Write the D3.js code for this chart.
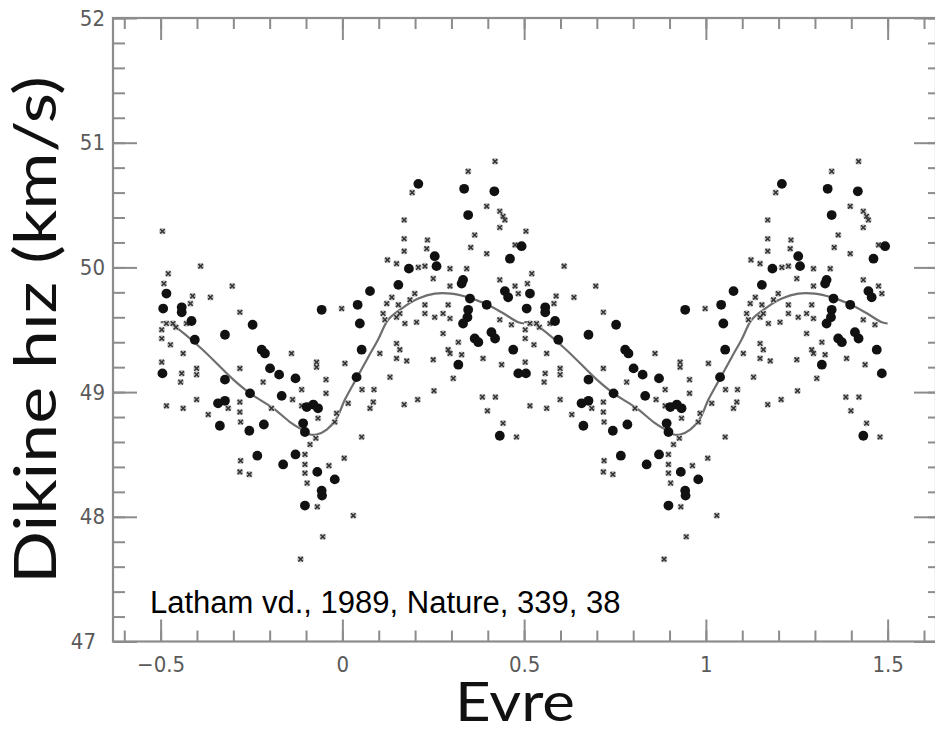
<!DOCTYPE html>
<html><head><meta charset="utf-8">
<script src="https://cdn.jsdelivr.net/npm/d3@7"></script>
<style>html,body{margin:0;padding:0;background:#fff;} svg{display:block}</style>
</head><body>
<svg id="c" width="935" height="732"></svg>
<script>
// ---------- data ----------
const xMajorTicks = [-0.5, 0, 0.5, 1, 1.5];
const xTickLabels = ["\u22120.5", "0", "0.5", "1", "1.5"];
const yMajorTicks = [47, 48, 49, 50, 51, 52];
const yTickLabels = ["47", "48", "49", "50", "51", "52"];
const phaseCopies = [0, 1];

const curvePhase = [-0.5,-0.475,-0.392,-0.3,-0.254,-0.19,-0.144,-0.112,-0.089,-0.071,-0.043,-0.016,0.007,0.039,0.071,0.098,0.126,0.163,0.209,0.254,0.3,0.346,0.392,0.438,0.484,0.5];
const curveVel   = [49.56,49.55,49.36,49.10,48.99,48.87,48.76,48.70,48.66,48.66,48.70,48.79,48.94,49.11,49.28,49.42,49.58,49.67,49.75,49.79,49.79,49.76,49.71,49.64,49.56,49.55];

const dotPhase = [-0.484,-0.493,-0.442,-0.442,-0.415,-0.247,-0.057,-0.406,-0.323,-0.222,-0.213,-0.495,-0.199,-0.174,-0.129,
 0.209,0.335,0.418,0.346,0.254,0.259,0.183,0.493,0.461,0.332,0.328,0.154,0.076,0.447,0.456,0.042,0.351,0.397,0.346,0.344,0.332,0.048,0.364,0.374,0.410,0.420,0.053,0.319,0.470,0.484,0.039,
 -0.323,-0.342,-0.323,-0.337,-0.254,-0.256,-0.216,-0.167,-0.098,-0.080,-0.067,-0.108,-0.103,-0.234,-0.163,-0.129,-0.069,-0.021,-0.057,-0.056,-0.103,
 0.433];
const dotVel = [49.79,49.67,49.68,49.64,49.57,49.54,49.66,49.42,49.46,49.34,49.31,49.15,49.19,49.14,49.11,
 50.67,50.63,50.61,50.42,50.09,50.01,49.99,50.17,50.07,49.90,49.87,49.86,49.81,49.81,49.76,49.70,49.75,49.70,49.66,49.60,49.55,49.55,49.43,49.40,49.48,49.43,49.34,49.22,49.34,49.15,49.12,
 49.10,48.91,48.93,48.73,48.99,48.69,48.74,48.97,48.88,48.90,48.87,48.75,48.68,48.49,48.42,48.50,48.36,48.30,48.21,48.17,48.09,
 48.65];

const crossPhase = [-0.495,-0.390,-0.479,-0.491,-0.303,-0.412,-0.363,-0.418,-0.282,-0.429,-0.484,-0.466,-0.458,-0.497,-0.497,-0.473,-0.438,-0.140,-0.497,-0.071,-0.071,-0.442,-0.401,-0.401,-0.282,-0.002,
 0.420,0.346,0.192,0.397,0.433,0.442,0.447,0.433,0.170,0.170,0.234,0.364,0.353,0.397,0.170,0.232,0.124,0.149,0.209,0.227,0.296,0.342,0.475,0.250,0.296,0.433,0.475,0.484,0.122,0.154,0.158,0.199,0.227,0.227,0.291,0.112,0.117,0.149,0.172,0.204,0.254,0.277,0.296,0.433,0.465,0.277,0.319,0.007,0.103,0.149,0.158,0.149,0.177,0.250,0.291,0.296,0.328,0.387,0.438,0.131,0.136,0.186,
 -0.445,-0.484,-0.438,-0.401,-0.369,-0.314,-0.282,-0.282,-0.280,-0.218,-0.195,-0.137,-0.112,-0.112,-0.067,-0.045,-0.045,-0.021,-0.073,-0.089,-0.280,-0.282,-0.256,-0.103,-0.103,-0.103,-0.097,-0.037,-0.069,-0.054,-0.115,
 0.054,0.087,0.016,0.085,0.076,0.170,0.207,0.252,0.305,0.053,0.005,0.030,0.385,0.421,0.399,0.442,0.479,-0.016];
const crossVel = [50.29,50.01,49.95,49.87,49.85,49.77,49.76,49.71,49.64,49.55,49.55,49.55,49.52,49.50,49.43,49.38,49.31,49.31,49.24,49.24,49.20,49.15,49.19,49.14,49.19,49.67,
 50.85,50.77,50.60,50.49,50.45,50.41,50.38,50.32,50.38,50.23,50.22,50.26,50.16,50.11,50.13,50.15,50.06,50.03,50.00,50.01,49.99,49.99,50.18,49.91,49.85,49.90,49.85,49.79,49.71,49.70,49.63,49.79,49.70,49.63,49.70,49.63,49.58,49.60,49.55,49.56,49.60,49.63,49.59,49.58,49.54,49.47,49.40,49.23,49.31,49.39,49.34,49.27,49.25,49.26,49.34,49.31,49.30,49.27,49.22,49.12,49.76,49.74,
 49.08,48.89,48.87,48.94,48.82,48.87,48.92,48.84,48.76,49.08,48.87,48.94,49.02,48.89,48.79,49.10,48.99,48.76,48.63,48.58,48.45,48.36,48.34,48.50,48.42,48.35,48.27,48.41,48.08,47.84,47.66,
 49.02,49.02,48.91,48.92,48.87,48.90,48.94,49.01,49.11,48.64,48.47,48.01,48.96,48.96,48.85,48.75,48.64,48.83];

// ---------- chart ----------
const svg = d3.select("#c");
const x = d3.scaleLinear().domain([-0.631, 1.633]).range([113, 936]);
const y = d3.scaleLinear().domain([47, 52]).range([641.5, 18]);
const [x0, x1] = x.range(), [y0, y1] = y.range();

const frameColor = "#8c8c8c";
const minorX = d3.range(-6, 17).map(i => i / 10);
const minorY = d3.range(235, 261).map(i => i / 5);

function styleAxis(g) {
  g.select(".domain").remove();
  g.selectAll(".tick line").attr("stroke", frameColor).attr("stroke-width", 2);
}
// bottom
svg.append("g").attr("transform", `translate(0,${y0})`)
  .call(d3.axisBottom(x).tickValues(minorX).tickSize(-11).tickFormat("")).call(styleAxis);
const bx = svg.append("g").attr("transform", `translate(0,${y0})`)
  .call(d3.axisBottom(x).tickValues(xMajorTicks).tickSize(-22).tickPadding(15)
    .tickFormat((d, i) => xTickLabels[i])).call(styleAxis);
// top
svg.append("g").attr("transform", `translate(0,${y1})`)
  .call(d3.axisTop(x).tickValues(minorX).tickSize(-11).tickFormat("")).call(styleAxis);
svg.append("g").attr("transform", `translate(0,${y1})`)
  .call(d3.axisTop(x).tickValues(xMajorTicks).tickSize(-22).tickFormat("")).call(styleAxis);
// left
svg.append("g").attr("transform", `translate(${x0},0)`)
  .call(d3.axisLeft(y).tickValues(minorY).tickSize(-12).tickFormat("")).call(styleAxis);
const ly = svg.append("g").attr("transform", `translate(${x0},0)`)
  .call(d3.axisLeft(y).tickValues(yMajorTicks).tickSize(-24).tickPadding(8)
    .tickFormat((d, i) => yTickLabels[i])).call(styleAxis);
// right
svg.append("g").attr("transform", `translate(${x1},0)`)
  .call(d3.axisRight(y).tickValues(minorY).tickSize(-8).tickFormat("")).call(styleAxis);
svg.append("g").attr("transform", `translate(${x1},0)`)
  .call(d3.axisRight(y).tickValues(yMajorTicks).tickSize(-22).tickFormat("")).call(styleAxis);

[bx, ly].forEach(g => g.selectAll(".tick text")
  .attr("fill", "#5a5a5a")
  .style("font-family", "'Liberation Sans Narrow','DejaVu Sans Condensed','Arial Narrow',sans-serif")
  .style("font-size", "22px"));
ly.selectAll(".tick text").filter(d => d === 47).attr("x", -17);

// frame
svg.append("rect").attr("x", x0).attr("y", y1).attr("width", x1 - x0).attr("height", y0 - y1)
  .attr("fill", "none").attr("stroke", frameColor).attr("stroke-width", 2.2);

// curve
const line = d3.line().x(d => x(d[0])).y(d => y(d[1])).curve(d3.curveCatmullRom);
phaseCopies.forEach(s => {
  svg.append("path").datum(curvePhase.map((p, i) => [p + s, curveVel[i]]))
    .attr("d", line).attr("fill", "none").attr("stroke", "#6e6e6e").attr("stroke-width", 2.2);
});

// crosses
const crossData = [];
phaseCopies.forEach(s => crossPhase.forEach((p, i) => crossData.push([p + s, crossVel[i]])));
const cg = svg.append("g");
cg.selectAll("circle").data(crossData).join("circle")
  .attr("cx", d => x(d[0])).attr("cy", d => y(d[1])).attr("r", 3.3).attr("fill", "#c4c4c4");
cg.selectAll("path").data(crossData).join("path")
  .attr("transform", d => `translate(${x(d[0])},${y(d[1])})`)
  .attr("d", "M-2.3,-2.3L2.3,2.3M-2.3,2.3L2.3,-2.3")
  .attr("stroke", "#333").attr("stroke-width", 1.5).attr("fill", "none");

// dots
const dotData = [];
phaseCopies.forEach(s => dotPhase.forEach((p, i) => dotData.push([p + s, dotVel[i]])));
svg.append("g").selectAll("circle").data(dotData).join("circle")
  .attr("cx", d => x(d[0])).attr("cy", d => y(d[1])).attr("r", 4.9).attr("fill", "#111");

// annotation
svg.append("text").attr("x", 150).attr("y", 612.5)
  .style("font-family", "'Liberation Sans',Arial,sans-serif").style("font-size", "31px")
  .attr("fill", "#000").text("Latham vd., 1989, Nature, 339, 38");

// axis titles
svg.append("text").attr("x", 515).attr("y", 721).attr("text-anchor", "middle")
  .attr("textLength", 120).attr("lengthAdjust", "spacingAndGlyphs")
  .style("font-family", "Lato,'Open Sans',sans-serif").style("font-size", "54px")
  .attr("fill", "#111").text("Evre");
svg.append("text").attr("transform", "translate(56,330) rotate(-90)").attr("text-anchor", "middle")
  .attr("textLength", 508).attr("lengthAdjust", "spacingAndGlyphs")
  .style("font-family", "Lato,'Open Sans',sans-serif").style("font-size", "58px")
  .attr("fill", "#111").text("Dikine hız (km/s)");
</script>
</body></html>
